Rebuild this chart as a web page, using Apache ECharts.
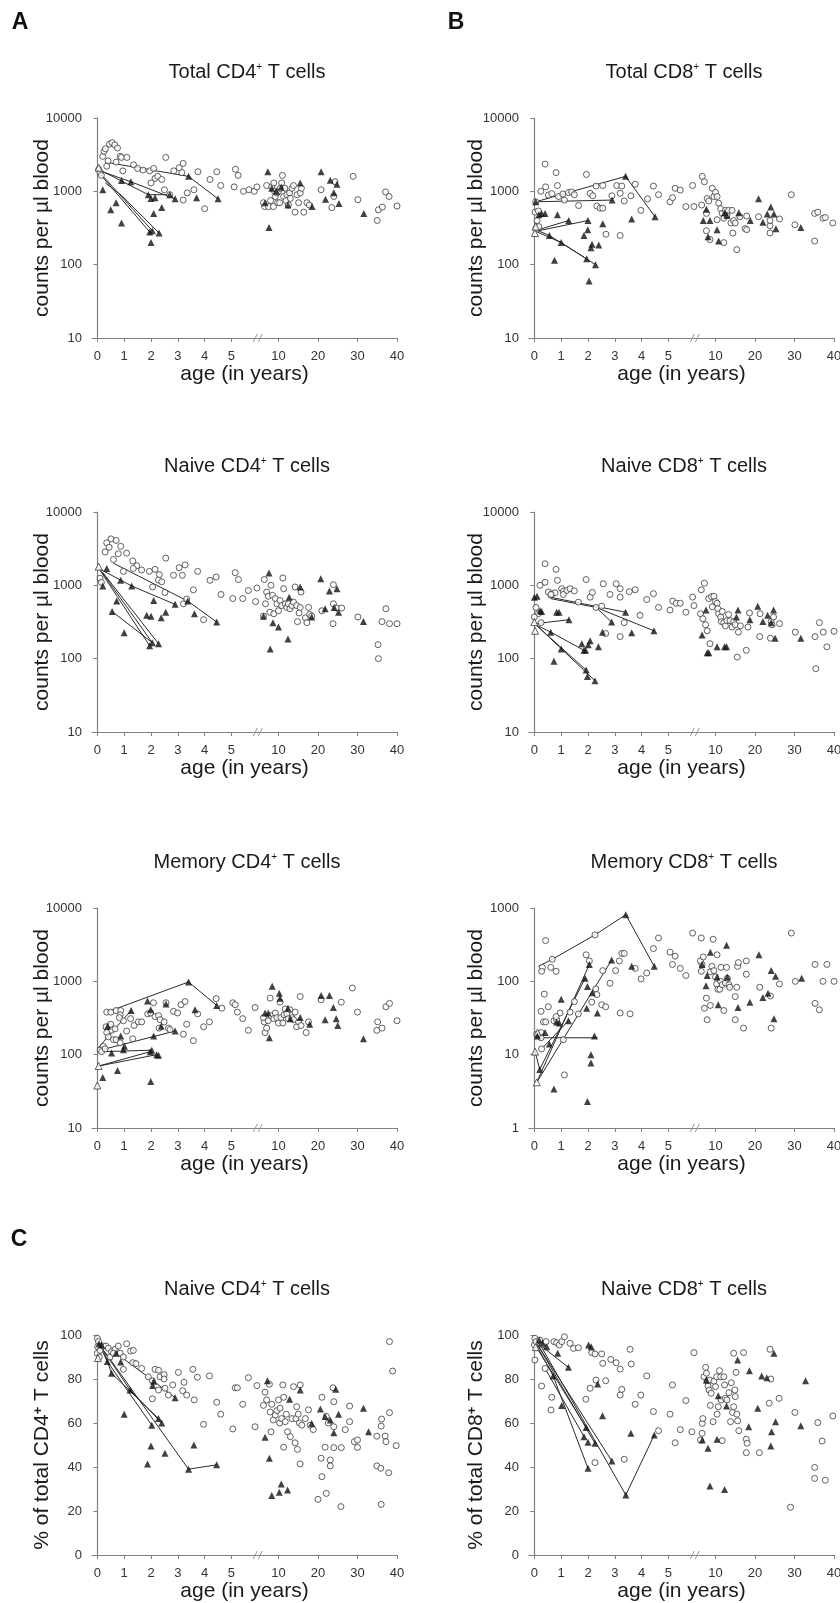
<!DOCTYPE html>
<html>
<head>
<meta charset="utf-8">
<script src="https://cdn.jsdelivr.net/npm/echarts@6/dist/echarts.min.js"></script>
<style>
  html, body { margin: 0; padding: 0; background: #fff; }
  #chart { width: 840px; height: 1603px; }
</style>
</head>
<body>
<div id="chart"></div>
<script>
// x axis: 0-5 years on a wide scale, then a break and 10-40 years compressed
const xTickAges = [0, 1, 2, 3, 4, 5, 10, 20, 30, 40];
function toAxis(age) {
    return age <= 5.95 ? age : 6.754 + (age - 10) * 0.1473;
}
const xTickPos = xTickAges.map(toAxis);
const X_MIN = -0.2;
const X_MAX = toAxis(40);
const BREAK_U = 6.0;

// ---- A: Total CD4+ (counts per ul) ----
const totalCD4Circles = [[0.05,2000],[0.1,1800],[0.15,1650],[0.2,3000],[0.25,3500],[0.3,3800],[0.35,2200],[0.4,2600],[0.45,4400],[0.55,4600],[0.65,4300],[0.7,2500],[0.75,3900],[0.85,3000],[0.95,1900],[0.9,2900],[1.1,2900],[1.35,2300],[1.5,2050],[1.7,1950],[1.95,1900],[2.0,1300],[2.1,2050],[2.15,1500],[2.25,1600],[2.4,1450],[2.5,1050],[2.55,2900],[2.7,900],[2.85,1900],[3.05,2100],[3.15,1800],[3.2,2400],[3.2,760],[3.35,950],[3.6,1050],[3.75,1850],[4.0,580],[4.2,1450],[4.45,1850],[4.6,1200],[5.1,1150],[5.15,2000],[5.25,1650],[5.45,1000],[5.65,1050],[5.85,1000],[5.95,1150],
  [6.2,700],[6.5,620],[7.0,1200],[7.5,620],[8.0,750],[8.3,1150],[8.7,620],[8.8,1300],[9.0,1000],[9.2,850],[9.6,950],[9.8,700],[10.0,1000],[10.3,700],[10.5,1100],[10.8,1300],[11.0,1650],[11.3,850],[11.6,1100],[11.9,750],[12.1,900],[12.5,650],[12.8,950],[13.0,800],[13.4,1100],[13.8,1200],[14.2,520],[14.7,900],[15.1,700],[15.5,950],[15.8,1100],[16.4,520],[17.2,700],[17.8,650],[20.8,1050],[23.5,600],[24.0,850],[24.3,1350],[28.9,1600],[30.1,770],[35.0,400],[35.3,560],[36.3,610],[37.1,980],[38.0,850],[40.0,630]];
const totalCD4Filled = [[0.2,1050],[0.5,560],[0.7,700],[0.9,370],[0.9,1400],[1.25,1350],[1.9,900],[2.0,800],[2.0,200],[1.95,280],[2.05,290],[2.1,500],[2.15,820],[2.3,270],[2.4,600],[2.7,900],[2.9,790],[3.4,1600],[3.7,820],[4.5,790],
  [6.6,700],[7.3,1850],[7.6,320],[8.3,1100],[9.5,1000],[10.7,1150],[12.4,650],[15.5,1300],[18.5,620],[20.8,1850],[21.9,780],[23.1,1420],[24.0,960],[24.8,1250],[25.3,680],[31.6,500]];
const totalCD4Open = [[0.05,2100]];
const totalCD4Lines = [
  [[0.3,2500],[3.4,1600],[4.5,790]],
  [[0.1,1900],[1.25,1350],[2.9,790]],
  [[0.1,1950],[1.9,900],[2.7,900]],
  [[0.05,1800],[1.95,280]],
  [[0.15,1700],[2.05,290]],
  [[0.3,1300],[0.9,880],[2.3,270]]
];

// ---- B: Total CD8+ ----
const totalCD8Circles = [[0.4,2350],[0.81,1800],[1.94,1700],[0.42,1150],[0.24,1000],[0.05,720],[0.52,890],[0.65,930],[0.86,1200],[0.9,850],[1.06,920],[1.12,760],[1.27,960],[1.39,980],[1.49,900],[1.65,640],[2.08,940],[2.18,870],[2.3,1180],[2.33,630],[2.55,1200],[2.45,590],[2.55,590],[2.67,260],[2.89,870],[3.07,1200],[3.2,940],[3.26,1180],[3.35,740],[3.2,250],[3.6,870],[3.76,1250],[3.97,550],[4.22,790],[4.44,1180],[4.63,900],[5.06,720],[5.15,820],[5.25,1100],[5.44,1040],[5.65,620],[5.9,1200],[5.95,620],
  [0.03,520],[0.1,400],[0.05,310],[0.17,330],[0.15,540],
  [6.65,1600],[7.2,1350],[6.5,650],[7.9,800],[8.3,740],[7.7,500],[7.7,290],[8.6,220],[9.2,1100],[9.6,850],[10.0,970],[10.4,850],[10.8,690],[11.3,580],[11.7,500],[12.1,430],[12.5,550],[12.9,470],[13.3,550],[13.9,370],[14.2,550],[14.6,400],[15.0,370],[15.4,160],[14.4,270],[12.1,200],[10.4,410],[16.2,450],[17.5,310],[17.9,300],[17.9,460],[20.9,450],[23.8,340],[23.8,270],[23.8,400],[26.2,420],[29.2,900],[30.1,350],[35.1,500],[35.9,520],[35.1,210],[37.2,430],[37.8,440],[39.7,370]];
const totalCD8Filled = [[0.05,720],[0.17,480],[0.27,500],[0.4,500],[0.86,480],[0.75,115],[1.0,200],[1.28,400],[1.85,250],[2.0,400],[1.99,300],[2.04,60],[1.95,120],[2.11,170],[2.15,190],[2.28,100],[2.4,185],[2.55,360],[2.9,760],[3.4,1600],[3.63,420],[4.5,450],[0.56,250],
  [7.7,570],[6.9,400],[8.6,400],[8.1,240],[10.4,300],[10.8,210],[12.3,510],[12.9,470],[15.9,510],[18.8,400],[20.9,790],[22.0,380],[23.1,490],[24.0,610],[24.8,490],[25.3,310],[31.6,320]];
const totalCD8Open = [[0.02,270],[0.05,330]];
const totalCD8Lines = [
  [[0.05,720],[3.4,1600],[4.5,450]],
  [[0.05,720],[2.9,760]],
  [[0.15,300],[1.28,400]],
  [[0.15,290],[2.0,400]],
  [[0.05,300],[0.56,250],[1.95,120]],
  [[0.1,280],[1.0,200],[2.28,100]]
];

// ---- A: Naive CD4+ ----
const naiveCD4Circles = [[0.51,4300],[0.7,4100],[0.35,3800],[0.87,3400],[0.29,2850],[0.44,3300],[0.78,2700],[1.09,2750],[0.6,2250],[0.97,1550],[1.32,2150],[1.47,1850],[1.65,1620],[1.34,1700],[1.94,1550],[2.15,1650],[2.31,1400],[2.28,1180],[2.4,1120],[2.55,2350],[2.06,950],[2.52,800],[2.84,1370],[3.05,1740],[3.27,1900],[3.17,1370],[3.33,650],[3.21,560],[3.58,870],[3.74,1550],[3.96,340],[4.2,1170],[4.43,1300],[4.61,750],[5.05,660],[5.14,1490],[5.26,1200],[5.42,660],[5.63,850],[5.9,600],[5.95,920],[0.1,1250],[0.15,1100],
  [6.4,1200],[6.7,560],[6.2,380],[7.0,810],[7.4,710],[8.1,1000],[7.8,430],[8.5,730],[8.8,410],[9.2,660],[9.6,560],[10.0,450],[10.4,620],[10.8,530],[11.1,1260],[11.3,900],[11.7,560],[12.1,500],[12.5,560],[12.9,480],[13.4,530],[13.8,590],[14.2,950],[14.6,530],[14.8,320],[15.2,420],[15.5,500],[15.7,810],[16.8,360],[17.2,310],[17.6,500],[17.9,400],[18.4,380],[21.0,450],[23.8,300],[23.9,560],[23.9,1020],[24.7,490],[26.0,490],[30.1,370],[35.2,155],[35.3,100],[36.2,320],[37.2,480],[38.1,300],[40.0,300]];
const naiveCD4Filled = [[0.2,980],[0.35,1700],[0.55,440],[0.72,610],[0.87,1170],[1.0,225],[1.28,980],[1.84,390],[2.0,380],[2.1,620],[2.05,165],[1.95,150],[2.28,160],[2.38,360],[2.55,430],[2.9,550],[3.37,610],[3.62,410],[4.45,316],
  [6.2,380],[7.6,1470],[7.9,135],[8.6,310],[10.0,270],[12.4,185],[12.7,690],[15.5,950],[18.4,370],[20.7,1230],[21.8,480],[22.9,840],[24.1,500],[24.8,900],[25.2,430],[31.5,320]];
const naiveCD4Open = [[0.05,1800]];
const naiveCD4Lines = [
  [[0.05,1700],[1.28,980],[2.9,550]],
  [[0.6,2000],[3.37,610],[4.45,316]],
  [[0.1,1600],[1.95,150]],
  [[0.15,1550],[2.05,165]],
  [[0.2,1500],[2.28,160]],
  [[0.55,440],[2.05,165]]
];

// ---- B: Naive CD8+ ----
const naiveCD8Circles = [[0.4,1970],[0.81,1650],[0.4,1100],[0.21,1000],[0.86,1170],[0.52,810],[0.65,770],[0.77,790],[1.02,900],[1.08,830],[1.21,850],[1.33,900],[1.49,840],[1.08,750],[1.64,590],[1.93,1200],[2.08,690],[2.16,800],[2.3,500],[2.51,520],[2.57,1050],[2.66,220],[2.82,750],[3.05,1050],[3.2,900],[3.2,690],[3.2,200],[3.35,310],[3.54,820],[3.76,870],[3.94,390],[4.19,640],[4.44,770],[4.63,500],[5.06,460],[5.16,610],[5.29,570],[5.44,570],[5.65,430],[5.9,690],[5.95,530],
  [0.06,500],[0.15,410],[0.0,370],[0.25,310],[0.62,750],
  [6.4,870],[7.2,1070],[6.2,410],[6.8,350],[7.5,290],[7.9,240],[8.6,160],[8.3,660],[9.0,700],[9.2,510],[9.6,710],[10.0,600],[10.4,570],[10.6,480],[10.8,410],[11.3,370],[11.5,320],[11.7,440],[12.1,310],[12.5,280],[12.9,330],[13.3,400],[13.7,330],[14.2,270],[14.6,320],[15.0,290],[15.5,105],[15.8,230],[16.3,280],[17.8,130],[18.2,270],[18.6,420],[21.2,200],[21.3,410],[23.9,190],[24.1,320],[24.3,290],[24.7,370],[26.2,300],[30.2,230],[35.2,200],[36.3,310],[37.3,230],[38.2,145],[35.4,73],[40.0,236]];
const naiveCD8Filled = [[0.0,690],[0.1,710],[0.21,450],[0.27,440],[0.83,430],[0.92,430],[1.29,340],[0.61,230],[1.0,135],[0.73,92],[1.77,160],[1.85,130],[1.91,130],[2.01,155],[2.08,175],[2.39,145],[2.54,230],[1.93,70],[1.98,57],[2.26,50],[2.88,316],[3.4,430],[3.63,225],[4.46,240],
  [7.6,460],[6.6,210],[7.9,120],[8.3,120],[10.4,145],[12.3,145],[12.8,145],[15.7,460],[15.3,370],[18.7,340],[20.7,520],[22.0,320],[23.2,390],[24.7,460],[24.1,310],[25.1,190],[31.6,190]];
const naiveCD8Open = [[0.0,315],[0.03,240]];
const naiveCD8Lines = [
  [[0.6,660],[2.3,500],[2.88,316]],
  [[0.5,700],[3.4,430]],
  [[2.3,500],[4.46,240]],
  [[0.05,300],[1.29,340]],
  [[0.05,290],[0.61,230],[1.85,130]],
  [[0.1,280],[1.93,70]],
  [[0.15,270],[2.26,50]]
];

// ---- A: Memory CD4+ ----
const memoryCD4Circles = [[0.35,380],[0.5,380],[0.7,400],[0.87,400],[0.85,350],[0.97,290],[0.82,320],[0.47,240],[0.32,240],[0.53,215],[0.35,200],[0.41,175],[0.6,160],[0.7,160],[0.85,145],[0.22,130],[0.1,115],[0.16,110],[0.29,120],[0.5,260],[0.66,225],[1.09,210],[1.32,165],[1.24,310],[1.37,250],[1.53,280],[1.65,280],[1.88,360],[1.99,370],[2.15,330],[2.28,340],[2.09,510],[2.34,300],[2.3,230],[2.56,510],[2.65,230],[2.49,280],[2.71,220],[2.84,390],[2.99,370],[3.12,480],[3.27,530],[3.21,190],[3.33,260],[3.58,155],[3.74,360],[3.96,240],[4.18,280],[4.43,580],[4.64,430],[5.05,510],[5.14,480],[5.22,380],[5.42,310],[5.63,215],[5.88,440],
  [6.4,280],[6.2,320],[6.6,200],[7.0,230],[7.4,290],[7.9,590],[8.1,340],[8.8,310],[9.2,370],[9.6,320],[10.0,270],[10.4,520],[10.6,320],[11.1,270],[11.4,350],[11.7,420],[12.1,360],[12.5,310],[12.9,410],[13.4,320],[13.8,300],[14.2,380],[14.6,240],[15.1,280],[15.5,620],[15.7,250],[17.0,200],[17.6,280],[20.8,560],[25.9,520],[28.7,810],[30.0,380],[34.9,215],[35.1,280],[36.2,230],[37.2,450],[38.1,500],[40.0,290]];
const memoryCD4Filled = [[0.2,49],[0.75,61],[0.38,245],[0.87,180],[0.53,105],[1.01,130],[0.97,117],[1.26,400],[1.87,540],[1.99,410],[1.97,110],[2.03,115],[2.1,180],[1.99,43],[2.21,100],[2.28,98],[2.38,245],[2.56,490],[2.9,210],[3.4,980],[3.64,410],[4.45,470],
  [6.6,370],[7.4,370],[7.7,170],[8.4,860],[10.2,690],[10.4,590],[12.4,430],[13.0,310],[15.5,320],[17.9,260],[20.8,640],[22.9,640],[21.8,300],[23.9,440],[24.6,310],[25.0,250],[31.5,165]];
const memoryCD4Open = [[0.0,38],[0.05,70]];
const memoryCD4Lines = [
  [[0.35,380],[3.4,980],[4.45,470]],
  [[0.0,120],[1.26,400]],
  [[0.1,115],[2.9,210]],
  [[0.05,70],[1.97,110]],
  [[0.05,70],[2.21,100]],
  [[0.15,110],[2.03,115]]
];

// ---- B: Memory CD8+ ----
const memoryCD8Circles = [[0.42,360],[0.67,200],[0.3,155],[0.27,137],[0.61,155],[0.81,137],[0.37,67],[0.52,45],[0.25,39],[0.34,28],[0.42,28],[0.25,20],[0.09,19],[0.25,17],[0.27,12],[0.73,29],[0.83,30],[0.96,37],[0.81,33],[1.08,16],[1.12,5.3],[1.33,38],[1.49,53],[1.64,36],[1.93,230],[2.05,190],[2.14,52],[2.29,79],[2.33,66],[2.51,48],[2.66,45],[2.26,430],[2.55,140],[2.82,94],[3.03,140],[3.17,190],[3.26,240],[3.35,240],[3.2,37],[3.57,36],[3.76,150],[3.98,108],[4.19,130],[4.44,280],[4.63,390],[5.06,250],[5.25,220],[5.15,170],[5.44,150],[5.65,120],[5.9,455],
  [6.4,390],[6.4,137],[6.6,170],[6.2,190],[6.9,215],[7.2,43],[7.7,59],[7.9,30],[8.7,47],[8.7,135],[9.1,160],[9.4,375],[9.6,140],[10.0,115],[10.3,92],[10.4,230],[10.6,78],[11.1,78],[11.3,100],[11.4,155],[11.7,90],[12.1,40],[12.5,95],[12.8,155],[13.0,110],[13.4,90],[13.6,83],[15.0,62],[15.0,30],[15.4,83],[15.6,160],[15.8,180],[17.1,23],[17.8,125],[17.8,190],[21.2,83],[23.9,63],[24.1,23],[26.2,92],[29.2,455],[30.2,100],[35.2,50],[36.3,41],[35.2,170],[38.2,170],[37.2,100],[40.0,100]];
const memoryCD8Filled = [[0.2,6.3],[0.11,18],[0.4,20],[0.56,14],[1.0,57],[0.73,3.4],[0.83,28],[0.93,27],[1.27,29],[1.89,110],[1.98,85],[2.05,170],[1.95,43],[2.24,18],[2.11,10],[2.11,7.7],[1.98,2.3],[2.16,70],[2.35,37],[2.88,195],[3.41,810],[3.63,160],[4.47,160],
  [6.6,170],[8.7,250],[7.6,87],[7.9,120],[10.4,115],[10.7,48],[12.8,310],[13.0,115],[15.7,44],[18.7,52],[21.0,230],[22.0,60],[23.3,69],[24.1,140],[25.2,117],[24.8,31],[31.8,110]];
const memoryCD8Open = [[0.12,20],[0.03,11],[0.09,4.2]];
const memoryCD8Lines = [
  [[0.15,160],[0.67,200],[2.26,430],[3.41,810],[4.47,160]],
  [[0.03,17],[2.35,17]],
  [[0.09,4.2],[2.05,170]],
  [[0.09,4.2],[2.88,195]],
  [[0.2,6.3],[1.89,110]],
  [[0.03,11],[0.2,6.3]],
  [[0.27,12],[1.27,29]]
];

// ---- C: Naive CD4+ (% of total CD4+) ----
const pctCD4Circles = [[0.0,98.5],[0.04,97],[0.01,94.7],[0.0,91.7],[0.07,90],[0.1,93],[0.22,95],[0.32,95],[0.41,94],[0.53,92.4],[0.66,93.5],[0.78,95],[0.47,90],[0.6,91.7],[0.85,91.7],[0.97,90],[1.09,96],[1.24,92.7],[1.34,93],[0.97,84.4],[1.32,87.4],[1.44,87],[1.65,84.8],[1.9,81],[2.15,84.4],[2.28,84],[2.34,81],[2.05,79.2],[2.05,71],[2.28,75],[2.49,82],[2.49,80],[2.52,75.8],[2.65,72.7],[2.81,77.3],[3.02,83],[3.18,74.7],[3.23,78.5],[3.33,72.7],[3.56,84.4],[3.61,70.5],[3.73,80.8],[3.96,59.4],[4.18,81.4],[4.45,69.4],[4.6,64],[5.05,57.3],[5.14,76],[5.22,76],[5.42,68.5],[5.63,80.6],[5.88,58.3],[5.95,77],
  [6.2,68],[6.6,74],[7.0,70.5],[7.7,77.6],[7.9,65],[8.3,68.5],[8.1,56],[8.7,61.4],[9.2,63.6],[9.6,65.6],[10.0,70.5],[10.3,60],[10.4,66.7],[10.8,62],[11.1,77.3],[11.3,49],[11.3,71.7],[11.7,60.6],[12.0,64],[12.3,56],[13.0,53.8],[13.4,62],[13.8,76.5],[14.2,51],[14.4,62],[14.6,67.4],[14.8,48],[15.0,64],[15.3,60],[15.5,77.3],[15.5,41.4],[15.9,59],[16.8,62],[17.6,66],[18.0,59],[18.8,57],[21.0,71.7],[20.8,44],[21.0,35.6],[21.8,49],[22.1,63],[22.1,28],[22.6,60],[23.1,43.2],[23.1,40.5],[23.8,76],[24.0,69.7],[24.0,58.3],[24.0,48.8],[25.8,22],[25.9,48.8],[26.9,57],[28.0,67.7],[28.0,60.6],[29.2,51.5],[30.0,48.9],[30.0,52.3],[20.0,25.3],[34.9,54],[34.9,40.5],[35.9,39.4],[36.0,23],[36.0,58.6],[36.1,61.8],[37.0,54],[37.2,51.5],[37.9,37.4],[38.1,64.7],[38.1,97],[38.9,83.6],[39.8,49.7],[40.1,31.5]];
const pctCD4Filled = [[0.06,96],[0.16,95.5],[0.37,87.9],[0.53,82.6],[0.7,91.7],[0.87,87.7],[1.22,75],[1.0,64],[1.87,41.4],[2.0,49.5],[2.03,59],[2.06,77],[2.1,79],[2.28,62],[2.4,60],[2.52,46.2],[2.9,71.5],[3.4,39],[3.6,50],[4.45,41],
  [7.2,79.2],[6.6,53.5],[7.7,44],[8.3,27],[10.2,28.5],[10.7,32.3],[12.3,29.5],[12.8,70.8],[15.5,75],[18.4,59.8],[20.6,66.4],[21.8,63],[23.1,61.4],[24.0,55.6],[24.5,75.3],[25.2,64],[31.5,66.7],[32.8,56]];
const pctCD4Open = [[0.02,89.5]];
const pctCD4Lines = [
  [[0.06,96],[0.37,87.9],[2.03,59]],
  [[0.06,96],[1.22,75],[2.4,60]],
  [[0.2,94],[0.53,82.6],[2.28,62]],
  [[0.3,92],[3.4,39],[4.45,41]],
  [[0.7,91.7],[2.1,79],[2.9,71.5]]
];

// ---- C: Naive CD8+ (% of total CD8+) ----
const pctCD8Circles = [[0.02,98.5],[0.0,95.5],[0.06,97],[0.02,88.6],[0.2,97.7],[0.3,95.5],[0.44,97],[0.4,84.8],[0.27,76.8],[0.65,71.7],[0.62,65.9],[0.73,97],[0.83,96.5],[0.93,95.5],[1.02,97],[1.12,99.2],[1.33,96.2],[1.46,93.9],[1.64,94.2],[1.92,70.8],[2.08,75.8],[2.14,92],[2.26,91.4],[2.3,79.5],[2.51,91.4],[2.55,87.1],[2.66,79.2],[2.85,88.9],[3.05,87.4],[3.2,84.5],[3.2,72.7],[3.26,75.3],[3.35,43.5],[3.57,93.5],[3.61,86.8],[3.76,68.5],[3.97,72.7],[4.19,81.4],[4.44,65.2],[4.63,56.5],[5.06,64],[5.15,77.3],[5.25,51],[5.44,57],[5.65,70.2],[5.87,56],[5.95,92],[2.26,42],
  [6.2,52.3],[6.65,59.8],[6.8,62],[6.6,55.3],[7.1,81],[7.5,85.3],[7.7,82.6],[7.9,79],[8.1,76.8],[8.4,75],[8.6,79.5],[8.9,73.5],[8.7,68],[9.4,60.6],[9.6,79],[10.0,76.5],[10.3,81],[10.4,64],[10.7,67.4],[11.0,83.8],[11.3,81],[11.4,70.5],[11.7,52],[12.1,81],[12.3,77.3],[12.5,71.2],[12.9,70.5],[13.4,73.8],[13.8,60.6],[14.0,78.3],[14.3,64.8],[14.6,91.7],[14.6,67.4],[14.9,75],[15.0,72],[15.2,83],[15.4,64],[15.6,61],[15.9,56.5],[17.1,92],[17.8,52.6],[18.0,50.8],[17.8,46.5],[21.1,46.5],[23.6,69],[23.8,93.5],[24.0,80],[26.1,71.2],[30.1,64.8],[29.0,21.7],[35.1,39.8],[35.1,34.8],[35.9,60.2],[37.0,51.8],[37.8,34],[39.7,63.2]];
const pctCD8Filled = [[0.18,97.7],[0.3,96.2],[0.46,94.7],[0.87,91.7],[0.7,81.4],[1.27,85.3],[1.02,68],[1.93,58],[1.85,53.8],[2.0,51.2],[2.0,39.4],[2.02,95.5],[2.12,94.7],[2.26,50.8],[2.36,77.7],[2.54,63.3],[2.89,42.7],[3.41,27.3],[3.6,55.3],[4.47,54.5],
  [6.65,52.3],[7.7,79.5],[8.1,48.5],[8.6,31.4],[10.4,52.6],[10.7,72.4],[12.3,29.8],[12.8,67.7],[15.6,88.6],[18.4,58.3],[18.6,83.8],[20.7,66.7],[21.7,81.4],[23.0,80.6],[24.0,49.5],[24.2,56],[24.8,91.7],[25.2,60.6],[31.6,58.8],[32.8,79.2]];
const pctCD8Open = [[0.05,94.5]];
const pctCD8Lines = [
  [[0.15,97],[3.41,27.3],[4.47,54.5]],
  [[0.05,97],[1.27,85.3]],
  [[0.1,96],[2.89,42.7]],
  [[0.1,96],[2.26,50.8]],
  [[0.05,95],[1.93,58]],
  [[0.05,96],[0.7,81.4],[2.0,39.4]],
  [[0.4,84.8],[1.85,53.8]]
];

const FONT = '"Liberation Sans", Arial, sans-serif';
const AXIS_COLOR = '#808080';
const colLeft = [92, 529];
const nameX = [42, 476];
const rowTop = [118, 512, 908, 1335];
const W = 305, H = 220;

const panels = [
  { col: 0, row: 0, title: 'Total CD4{sup|+} T cells', log: true, yMin: 10, yMax: 10000, yName: 'counts per µl blood',
    circ: totalCD4Circles, fill: totalCD4Filled, open: totalCD4Open, lines: totalCD4Lines },
  { col: 1, row: 0, title: 'Total CD8{sup|+} T cells', log: true, yMin: 10, yMax: 10000, yName: 'counts per µl blood',
    circ: totalCD8Circles, fill: totalCD8Filled, open: totalCD8Open, lines: totalCD8Lines },
  { col: 0, row: 1, title: 'Naive CD4{sup|+} T cells', log: true, yMin: 10, yMax: 10000, yName: 'counts per µl blood',
    circ: naiveCD4Circles, fill: naiveCD4Filled, open: naiveCD4Open, lines: naiveCD4Lines },
  { col: 1, row: 1, title: 'Naive CD8{sup|+} T cells', log: true, yMin: 10, yMax: 10000, yName: 'counts per µl blood',
    circ: naiveCD8Circles, fill: naiveCD8Filled, open: naiveCD8Open, lines: naiveCD8Lines },
  { col: 0, row: 2, title: 'Memory CD4{sup|+} T cells', log: true, yMin: 10, yMax: 10000, yName: 'counts per µl blood',
    circ: memoryCD4Circles, fill: memoryCD4Filled, open: memoryCD4Open, lines: memoryCD4Lines },
  { col: 1, row: 2, title: 'Memory CD8{sup|+} T cells', log: true, yMin: 1, yMax: 1000, yName: 'counts per µl blood',
    circ: memoryCD8Circles, fill: memoryCD8Filled, open: memoryCD8Open, lines: memoryCD8Lines },
  { col: 0, row: 3, title: 'Naive CD4{sup|+} T cells', log: false, yMin: 0, yMax: 100, yName: '% of total CD4{big|+} T cells',
    circ: pctCD4Circles, fill: pctCD4Filled, open: pctCD4Open, lines: pctCD4Lines },
  { col: 1, row: 3, title: 'Naive CD8{sup|+} T cells', log: false, yMin: 0, yMax: 100, yName: '% of total CD8{big|+} T cells',
    circ: pctCD8Circles, fill: pctCD8Filled, open: pctCD8Open, lines: pctCD8Lines }
];

const tr = p => [toAxis(p[0]), p[1]];

const option = {
    animation: false,
    backgroundColor: '#fff',
    title: [], grid: [], xAxis: [], yAxis: [], series: [], graphic: []
};

panels.forEach((p, i) => {
    const left = colLeft[p.col];
    const top = rowTop[p.row];
    option.grid.push({ left: left, top: top, width: W, height: H, outerBoundsMode: 'none' });

    option.title.push({
        text: p.title,
        left: left + 155, top: top - 56,
        textAlign: 'center', padding: 0,
        textStyle: {
            fontFamily: FONT, fontSize: 20, fontWeight: 'normal', color: '#1a1a1a',
            rich: { sup: { fontFamily: FONT, fontSize: 10, color: '#1a1a1a', verticalAlign: 'top' } }
        }
    });

    option.xAxis.push({
        gridIndex: i, type: 'value', min: X_MIN, max: X_MAX,
        name: 'age (in years)', nameLocation: 'middle', nameGap: 26, nameMoveOverlap: false,
        nameTextStyle: { fontFamily: FONT, fontSize: 21, color: '#1a1a1a' },
        axisLine: { show: true, onZero: false, lineStyle: { color: AXIS_COLOR, width: 1.2 } },
        axisTick: { show: true, customValues: xTickPos, length: 4, lineStyle: { color: AXIS_COLOR } },
        axisLabel: {
            customValues: xTickPos, fontFamily: FONT, fontSize: 13, color: '#333', margin: 12,
            formatter: function (v) {
                for (let k = 0; k < xTickPos.length; k++) {
                    if (Math.abs(xTickPos[k] - v) < 1e-6) return String(xTickAges[k]);
                }
                return '';
            }
        },
        splitLine: { show: false }
    });

    const yAxis = {
        gridIndex: i, type: p.log ? 'log' : 'value', min: p.yMin, max: p.yMax,
        axisLine: { show: true, lineStyle: { color: AXIS_COLOR, width: 1.2 } },
        axisTick: { show: true, length: 4, lineStyle: { color: AXIS_COLOR } },
        axisLabel: { fontFamily: FONT, fontSize: 13, color: '#333', margin: 10,
            formatter: v => String(Math.round(v)) },
        splitLine: { show: false }
    };
    if (p.log) yAxis.logBase = 10; else yAxis.interval = 20;
    option.yAxis.push(yAxis);

    // vertical axis title, placed as rotated text beside the axis
    option.graphic.push({
        type: 'text', x: nameX[p.col], y: top + H / 2, rotation: Math.PI / 2, silent: true,
        style: {
            text: p.yName, fill: '#1a1a1a', font: '21px ' + FONT, align: 'center', verticalAlign: 'middle',
            rich: { big: { fill: '#1a1a1a', font: 'bold 13px ' + FONT, verticalAlign: 'top' } }
        }
    });

    p.lines.forEach(pts => {
        option.series.push({
            type: 'line', xAxisIndex: i, yAxisIndex: i, data: pts.map(tr),
            symbol: 'none', silent: true, z: 2,
            lineStyle: { color: '#2a2a2a', width: 1 }
        });
    });
    option.series.push({
        type: 'scatter', xAxisIndex: i, yAxisIndex: i, data: p.circ.map(tr),
        symbol: 'circle', symbolSize: 6, silent: true, z: 3,
        itemStyle: { color: '#fff', borderColor: '#3a3a3a', borderWidth: 1 }
    });
    option.series.push({
        type: 'scatter', xAxisIndex: i, yAxisIndex: i, data: p.open.map(tr),
        symbol: 'triangle', symbolSize: 7, silent: true, z: 3,
        itemStyle: { color: '#fff', borderColor: '#3a3a3a', borderWidth: 1 }
    });
    option.series.push({
        type: 'scatter', xAxisIndex: i, yAxisIndex: i, data: p.fill.map(tr),
        symbol: 'triangle', symbolSize: 7, silent: true, z: 4,
        itemStyle: { color: '#111' }
    });

    // axis break mark "//"
    const bx = left + (BREAK_U - X_MIN) / (X_MAX - X_MIN) * W;
    const by = top + H;
    [-3, 2].forEach(dx => {
        option.graphic.push({
            type: 'line', silent: true, z: 10,
            shape: { x1: bx + dx - 2, y1: by + 4, x2: bx + dx + 2, y2: by - 4 },
            style: { stroke: '#999', lineWidth: 1 }
        });
    });
});

// panel letters
[['A', 20, 23], ['B', 456, 23], ['C', 19, 1240]].forEach(l => {
    option.graphic.push({
        type: 'text', x: l[1], y: l[2], silent: true,
        style: { text: l[0], fill: '#111', font: 'bold 23px ' + FONT, align: 'center', verticalAlign: 'middle' }
    });
});

const chart = echarts.init(document.getElementById('chart'));
chart.setOption(option);
</script>
</body>
</html>
